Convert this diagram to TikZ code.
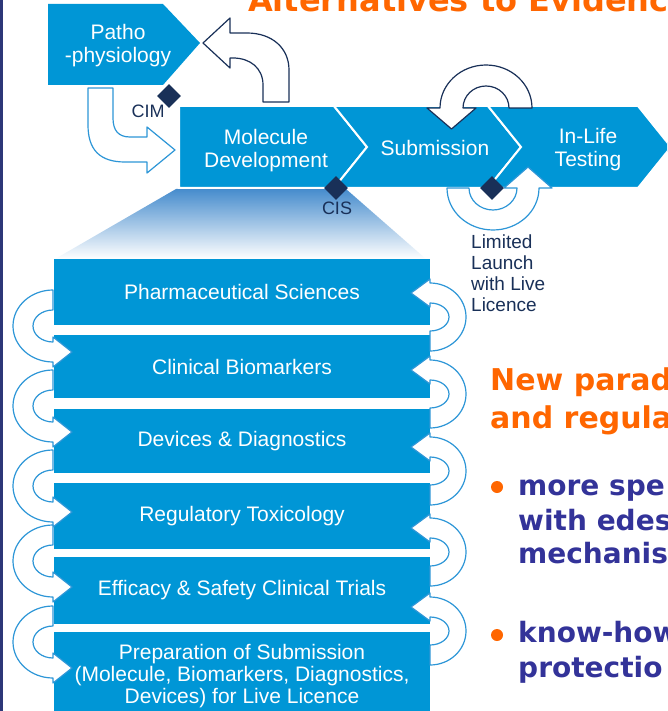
\documentclass[tikz,border=0pt]{standalone}
\usepackage{fontspec}
\setmainfont{Liberation Sans}
\newfontfamily\headfont{DejaVu Sans}
\usetikzlibrary{shapes.geometric,positioning}

\definecolor{boxblue}{RGB}{0,150,214}
\definecolor{lineblue}{RGB}{45,150,215}
\definecolor{darknavy}{RGB}{25,48,88}
\definecolor{slideorange}{RGB}{255,102,0}
\definecolor{textnavy}{RGB}{51,51,153}
\definecolor{gradtop}{RGB}{70,140,205}
\definecolor{rimblue}{RGB}{45,55,120}

\tikzset{
  stage/.style={fill=boxblue, draw=white, line width=2pt},
  stagetext/.style={text=white, font=\fontsize{21}{23}\selectfont, align=center, inner sep=0pt},
  phase/.style={rectangle, fill=boxblue, minimum width=376pt, inner sep=0pt, text=white,
    align=center, font=\fontsize{21}{22}\selectfont},
  hollowdark/.style={fill=white, draw=darknavy, line width=1.2pt, line join=round},
  hollowlight/.style={fill=white, draw=lineblue, line width=1.2pt, line join=round},
  gate/.style={diamond, fill=darknavy, minimum size=24pt, inner sep=0pt},
  gatetext/.style={text=darknavy, font=\fontsize{18}{20}\selectfont, inner sep=0pt},
  headtext/.style={anchor=base west, inner sep=0pt, text=slideorange, font=\headfont\bfseries\fontsize{30}{36}\selectfont},
  pointtext/.style={anchor=base west, inner sep=0pt, text=textnavy, font=\headfont\bfseries\fontsize{28}{34}\selectfont}
}

\begin{document}
\begin{tikzpicture}[x=1pt,y=1pt]
\useasboundingbox (0,0) rectangle (667,-711);
\clip (0,0) rectangle (667,-711);

% fan from molecule development down to the stack
\shade[top color=gradtop, bottom color=white] (176,-189) -- (346,-189) -- (426,-259) -- (55,-259) -- cycle;

% top row of stages
\fill[boxblue] (48,-4) -- (163,-4) -- (200,-43) -- (163,-85) -- (48,-85) -- cycle;
\draw[stage] (179,-106) -- (334,-106) -- (367,-147) -- (334,-188) -- (179,-188) -- cycle;
\draw[stage] (334,-106) -- (488,-106) -- (521,-147) -- (488,-188) -- (334,-188) -- (367,-147) -- cycle;
\draw[stage] (488,-106) -- (638,-106) -- (671,-147) -- (638,-188) -- (488,-188) -- (521,-147) -- cycle;

\node[stagetext] (patho) at (118,-46) {Patho\\-physiology};
\node[stagetext] (mol) at (266,-151) {Molecule\\Development};
\node[stagetext] (sub) at (435,-148) {Submission};
\node[stagetext] (inlife) at (588,-150) {In-Life\\Testing};

% stack of activities
\node[phase, minimum height=66pt] (s1) at (242,-292) {Pharmaceutical Sciences};
\node[phase, minimum height=63pt] (s2) at (242,-366.5) {Clinical Biomarkers};
\node[phase, minimum height=64pt] (s3) at (242,-441) {Devices \& Diagnostics};
\node[phase, minimum height=66pt] (s4) at (242,-516) {Regulatory Toxicology};
\node[phase, minimum height=67pt] (s5) at (242,-590.5) {Efficacy \& Safety Clinical Trials};
\node[phase, minimum height=88pt] (s6) at (242,-676) {Preparation of Submission\\(Molecule, Biomarkers, Diagnostics,\\Devices) for Live Licence};

% loops down the left side
\foreach \cy in {326,406,486,561,642} {
  \draw[hollowlight] (53,-\cy+36) arc[start angle=90, end angle=270, x radius=40, y radius=36]
    -- (53,-\cy-41) -- (72,-\cy-26) -- (53,-\cy-11) -- (53,-\cy-16)
    arc[start angle=270, end angle=90, x radius=20, y radius=16] -- cycle;
}
% loops up the right side
\foreach \cy in {317,394,471,552,631} {
  \draw[hollowlight] (430,-\cy-34) arc[start angle=-90, end angle=90, x radius=36, y radius=34]
    -- (430,-\cy+38) -- (411,-\cy+24) -- (430,-\cy+10) -- (430,-\cy+14)
    arc[start angle=90, end angle=-90, x radius=19, y radius=14] -- cycle;
}

% feedback arrows of the top row
\draw[hollowdark] (263,-102) -- (263,-85) .. controls (263,-68) and (250,-58) .. (233,-58)
  -- (230,-58) -- (230,-68) -- (203,-43) -- (230,-18) -- (230,-33) -- (247,-33)
  .. controls (272,-33) and (289,-48) .. (289,-70) -- (289,-102) -- cycle;
\draw[hollowlight] (88,-88) -- (88,-125) .. controls (88,-150) and (100,-162) .. (125,-162)
  -- (147,-162) -- (147,-173) -- (175,-150) -- (147,-127) -- (147,-137) -- (130,-137)
  .. controls (118,-137) and (113,-130) .. (113,-118) -- (113,-88) -- cycle;
\draw[hollowdark] (532,-108) arc[start angle=0, end angle=180, x radius=46, y radius=43]
  -- (427,-108) -- (451.5,-129) -- (476,-108) -- (463,-108)
  arc[start angle=180, end angle=0, x radius=23, y radius=22] -- cycle;
\draw[hollowlight] (447,-188) arc[start angle=180, end angle=360, x radius=46, y radius=42]
  -- (552,-188) -- (528,-167) -- (504,-188) -- (517,-188)
  arc[start angle=0, end angle=-180, x radius=24, y radius=22] -- cycle;

% decision points
\node[gate] (cim) at (169,-96) {};
\node[gate] (cis) at (336,-188) {};
\node[gate] (live) at (492,-188) {};
\node[gatetext] (cimlabel) at (148,-111) {CIM};
\node[gatetext] (cislabel) at (337,-208) {CIS};
\node[anchor=north west, inner sep=0pt, text=darknavy, align=left, font=\fontsize{19}{20.7}\selectfont]
  (launch) at (471,-235) {Limited\\Launch\\with Live\\Licence};

% slide text
\fill[rimblue] (0,0) rectangle (2.5,-711);
\node[headtext, font=\headfont\bfseries\fontsize{32}{36}\selectfont] (title) at (248,-12) {Alternatives to Evidence};
\node[headtext] (para1) at (490,-390) {New parad};
\node[headtext] (para2) at (490,-428) {and regula};
\fill[slideorange] (497,-487) circle (6);
\fill[slideorange] (497,-635) circle (6);
\node[pointtext] (pt1) at (518,-495) {more spe};
\node[pointtext] (pt2) at (518,-530) {with edes};
\node[pointtext] (pt3) at (518,-563) {mechanis};
\node[pointtext] (pt4) at (518,-642) {know-how};
\node[pointtext] (pt5) at (518,-677) {protectio};
\end{tikzpicture}
\end{document}
